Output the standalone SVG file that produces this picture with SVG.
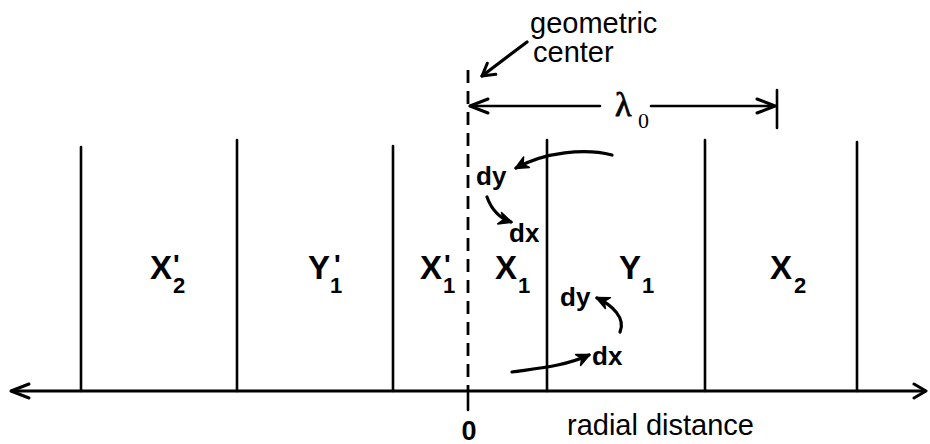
<svg xmlns="http://www.w3.org/2000/svg" width="930" height="444" viewBox="0 0 930 444">
<style>
.ln{stroke:#000;stroke-width:2.6;fill:none;stroke-linecap:round}
.ax{stroke:#000;stroke-width:3;fill:none}
.cv{stroke:#000;stroke-width:3.2;fill:none;stroke-linecap:round}
.lb{font-family:"Liberation Sans",Arial,sans-serif;font-weight:bold;fill:#000}
.big{font-size:33px}
.sub{font-size:22px}
.pr{font-size:28px}
.d{font-size:26px}
.tx{font-family:"Liberation Sans",Arial,sans-serif;fill:#000;font-size:29px}
.gr{font-family:"Liberation Serif","Times New Roman",serif;fill:#000}
</style>
<defs>
<marker id="open" viewBox="-20 -10 22 20" markerWidth="22" markerHeight="20" refX="0" refY="0" orient="auto" markerUnits="userSpaceOnUse">
<path d="M-18,-7 L0,0 L-18,7" fill="none" stroke="#000" stroke-width="3" stroke-linecap="round" stroke-linejoin="round"/>
</marker>
<marker id="openS" viewBox="-14 -10 16 20" markerWidth="16" markerHeight="20" refX="0" refY="0" orient="auto" markerUnits="userSpaceOnUse">
<path d="M-12,-7 L0,0 L-12,7" fill="none" stroke="#000" stroke-width="3" stroke-linecap="round" stroke-linejoin="round"/>
</marker>
<marker id="head" viewBox="-14 -8 16 16" markerWidth="16" markerHeight="16" refX="0" refY="0" orient="auto" markerUnits="userSpaceOnUse">
<path d="M1,0 L-12,-6 L-8,0 L-12,6 Z" fill="#000" stroke="#000" stroke-width="1.5" stroke-linejoin="round"/>
</marker>
</defs>

<g id="connectors">
  <line id="axis" class="ax" x1="60" y1="391" x2="926" y2="391" marker-end="url(#openS)"/>
  <line class="ax" x1="60" y1="391" x2="11" y2="391" marker-end="url(#open)"/>
  <line id="center-line" x1="468" y1="70" x2="468" y2="391" stroke="#000" stroke-width="2.8" stroke-dasharray="13 8"/>
  <line class="ln" x1="468" y1="391" x2="468" y2="410"/>
  <line id="geo-arrow" class="cv" x1="527" y1="42" x2="482" y2="76" marker-end="url(#openS)"/>
  <line class="ln" x1="600" y1="106" x2="470" y2="106" marker-end="url(#open)"/>
  <line class="ln" x1="651" y1="106" x2="775" y2="106" marker-end="url(#open)"/>
  <line class="ln" x1="777" y1="90" x2="777" y2="128"/>
  <path id="arr1" class="cv" d="M612,155 C585,148 545,152 516,168" marker-end="url(#head)"/>
  <path id="arr2" class="cv" d="M487,197 C491,208 499,218 511,222" marker-end="url(#head)"/>
  <path id="arr3" class="cv" d="M620,332 C626,318 612,305 597,298" marker-end="url(#head)"/>
  <path id="arr4" class="cv" d="M512,372 C540,368 565,366 589,355" marker-end="url(#head)"/>
</g>

<g id="boundaries">
  <line class="ln" x1="81" y1="147" x2="81" y2="391"/>
  <line class="ln" x1="237" y1="140" x2="237" y2="391"/>
  <line class="ln" x1="393" y1="146" x2="393" y2="391"/>
  <line class="ln" x1="547" y1="140" x2="547" y2="391"/>
  <line class="ln" x1="705" y1="140" x2="705" y2="391"/>
  <line class="ln" x1="857" y1="142" x2="857" y2="391"/>
</g>

<g id="label-geometric-center">
  <text class="tx" x="530" y="33">geometric</text>
  <text class="tx" x="533" y="62">center</text>
</g>
<g id="label-lambda">
  <text class="gr" x="615" y="116" font-size="34" stroke="#000" stroke-width="0.8">λ</text>
  <text class="gr" x="638" y="128" font-size="22">0</text>
</g>

<g id="node-X2p">
  <text class="lb big" x="150" y="279">X<tspan class="pr" x="173" y="274">'</tspan><tspan class="sub" x="173" y="293">2</tspan></text>
</g>
<g id="node-Y1p">
  <text class="lb big" x="308" y="279">Y<tspan class="pr" x="334" y="274">'</tspan><tspan class="sub" x="330" y="293">1</tspan></text>
</g>
<g id="node-X1p">
  <text class="lb big" x="420" y="279">X<tspan class="pr" x="444" y="274">'</tspan><tspan class="sub" x="443" y="293">1</tspan></text>
</g>
<g id="node-X1">
  <text class="lb big" x="495" y="279">X<tspan class="sub" x="518" y="293">1</tspan></text>
</g>
<g id="node-Y1">
  <text class="lb big" x="619" y="279">Y<tspan class="sub" x="642" y="293">1</tspan></text>
</g>
<g id="node-X2">
  <text class="lb big" x="770" y="279">X<tspan class="sub" x="794" y="293">2</tspan></text>
</g>

<g id="label-dy-1"><text class="lb d" x="476" y="185">dy</text></g>
<g id="label-dx-1"><text class="lb d" x="509" y="242">dx</text></g>
<g id="label-dy-2"><text class="lb d" x="560" y="306">dy</text></g>
<g id="label-dx-2"><text class="lb d" x="592" y="365">dx</text></g>

<g id="label-zero"><text class="lb" font-size="27" x="469" y="440" text-anchor="middle">0</text></g>
<g id="label-radial"><text class="tx" x="567" y="435">radial distance</text></g>
</svg>
